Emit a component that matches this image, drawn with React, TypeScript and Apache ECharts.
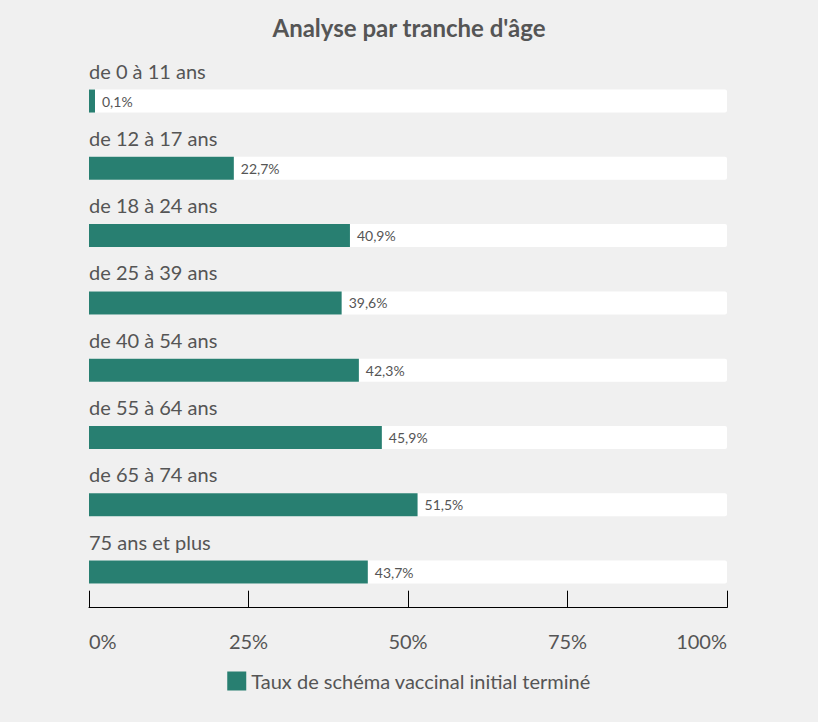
import React, { useEffect, useRef } from "react";
import * as echarts from "echarts";

const categories = [
  "de 0 à 11 ans",
  "de 12 à 17 ans",
  "de 18 à 24 ans",
  "de 25 à 39 ans",
  "de 40 à 54 ans",
  "de 55 à 64 ans",
  "de 65 à 74 ans",
  "75 ans et plus",
];
const values = [0.1, 22.7, 40.9, 39.6, 42.3, 45.9, 51.5, 43.7];
const fullScale = [100, 100, 100, 100, 100, 100, 100, 100];
const seriesName = "Taux de schéma vaccinal initial terminé";
const titleText = "Analyse par tranche d'âge";

const FONT = "Lato, 'Source Sans Pro', 'Noto Sans', sans-serif";
const TEXT = "#555555";
const TEAL = "#287f71";

export default function App() {
  const ref = useRef<HTMLDivElement>(null);
  useEffect(() => {
    if (!ref.current) return;
    const chart = echarts.init(ref.current, undefined, { renderer: "svg" });
    chart.setOption({
      animation: false,
      backgroundColor: "#f0f0f0",
      textStyle: { fontFamily: FONT },
      title: {
        text: titleText,
        left: "center",
        top: 10,
        textStyle: { fontFamily: FONT, fontSize: 24, fontWeight: "bold", color: TEXT },
      },
      legend: {
        data: [seriesName],
        bottom: 26,
        left: "center",
        itemWidth: 19,
        itemHeight: 19,
        itemGap: 10,
        icon: "rect",
        textStyle: { fontFamily: FONT, fontSize: 20, color: TEXT },
      },
      grid: { left: 89, right: 91, top: 67.4, height: 538.3, containLabel: false },
      xAxis: {
        type: "value",
        min: 0,
        max: 100,
        interval: 25,
        offset: 2,
        axisLine: { show: true, lineStyle: { color: "#000", width: 1 } },
        axisTick: { show: true, inside: true, length: 17, lineStyle: { color: "#000" } },
        splitLine: { show: false },
        axisLabel: {
          formatter: "{value}%",
          fontFamily: FONT,
          fontSize: 20,
          color: TEXT,
          margin: 23,
          alignMinLabel: "left",
          alignMaxLabel: "right",
        },
      },
      yAxis: {
        type: "category",
        inverse: true,
        data: categories,
        axisLine: { show: false },
        axisTick: { show: false },
        axisLabel: { show: false },
      },
      series: [
        {
          type: "bar",
          name: "bg",
          data: fullScale,
          barWidth: 23,
          barGap: "-100%",
          silent: true,
          z: 1,
          itemStyle: { color: "#ffffff", borderRadius: 2 },
          label: {
            show: true,
            position: [0, -19],
            align: "left",
            verticalAlign: "middle",
            formatter: (p: any) => categories[p.dataIndex],
            fontFamily: FONT,
            fontSize: 20,
            color: TEXT,
          },
        },
        {
          type: "bar",
          name: seriesName,
          data: values,
          barWidth: 23,
          barMinHeight: 6,
          z: 2,
          itemStyle: { color: TEAL },
          label: {
            show: true,
            position: "right",
            distance: 7,
            formatter: (p: any) => String(p.value).replace(".", ",") + "%",
            fontFamily: FONT,
            fontSize: 14,
            color: TEXT,
          },
        },
      ],
    });
    return () => chart.dispose();
  }, []);
  return (
    <div
      ref={ref}
      style={{ position: "fixed", left: 0, top: 0, width: 818, height: 722 }}
    />
  );
}
